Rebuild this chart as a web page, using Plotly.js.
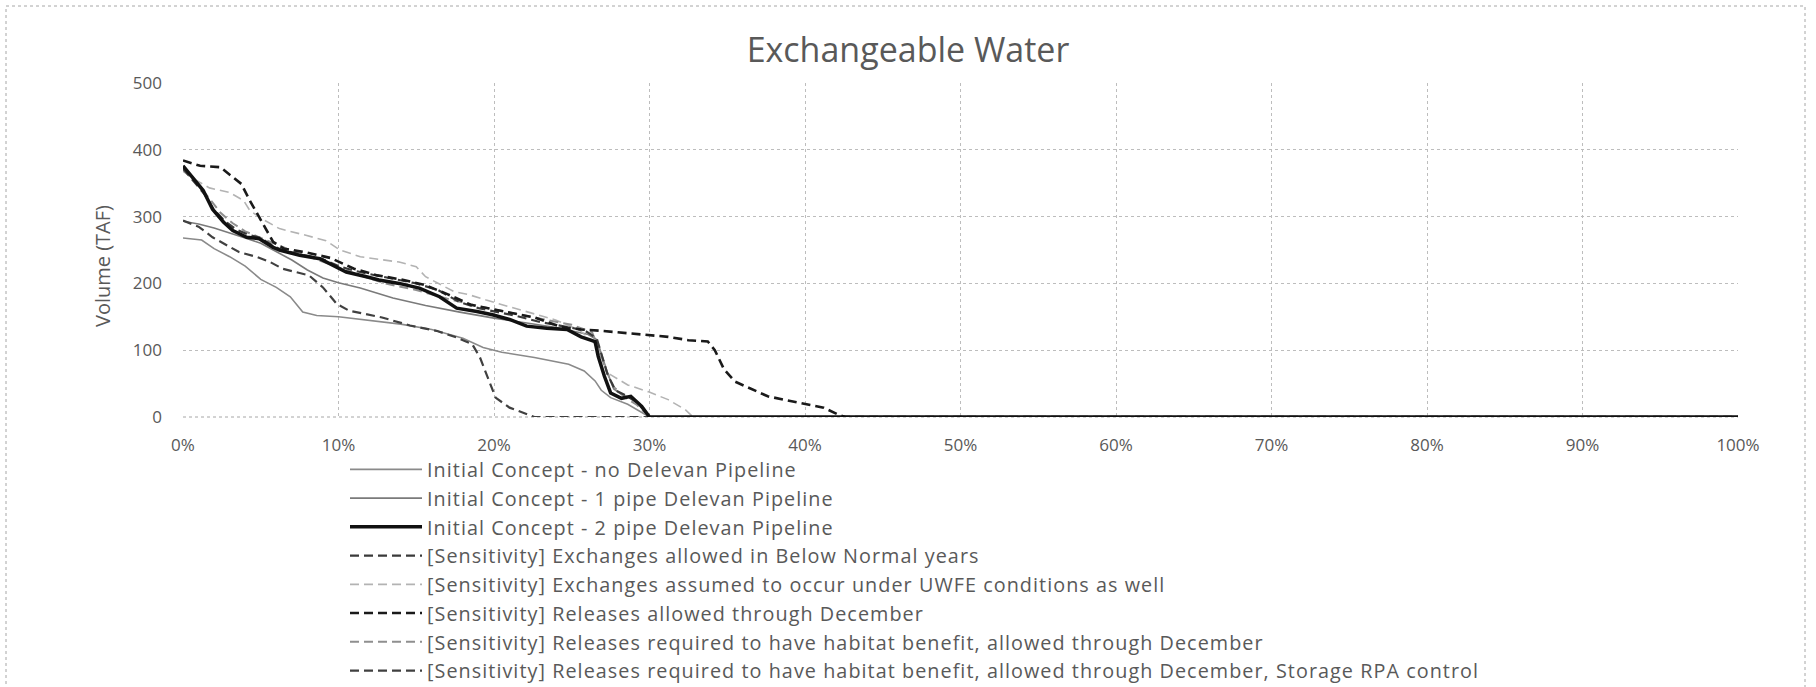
<!DOCTYPE html>
<html>
<head>
<meta charset="utf-8">
<script src="https://cdn.plot.ly/plotly-3.0.1.min.js"></script>
<style>
html,body{margin:0;padding:0;background:#fff;}
#chart{width:1816px;height:687px;}
#chart .legendtext{letter-spacing:1.05px;}
#chart g.legend, #chart g.legend *{clip-path:none !important;}
</style>
</head>
<body>
<div id="chart"></div>
<script>
// ---- Data (exceedance %, volume TAF) ----
const seriesNames = [
  "Initial Concept - no Delevan Pipeline",
  "Initial Concept - 1 pipe Delevan Pipeline",
  "Initial Concept - 2 pipe Delevan Pipeline",
  "[Sensitivity] Exchanges allowed in Below Normal years",
  "[Sensitivity] Exchanges assumed to occur under UWFE conditions as well",
  "[Sensitivity] Releases allowed through December",
  "[Sensitivity] Releases required to have habitat benefit, allowed through December",
  "[Sensitivity] Releases required to have habitat benefit, allowed through December, Storage RPA control"
];

const noDelevanX = [0,1.2,2,3,4,5,6,6.9,7.7,8.6,10,12,14,16,18,19.3,20.5,22.6,24.8,25.8,26.5,26.9,27.5,28.6,29.5,30,100];
const noDelevanY = [268,265,252,240,226,206,194,180,157,152,150,144,139,131,118,104,97,89,79,69,54,40,29,19,6,0,0];

const onePipeX = [0,1,2,3,4,5,6,7,8,9,10,11.4,13.5,15.6,17.8,20,22,24,26,26.6,26.9,27.3,27.7,28.3,28.9,29.5,30,100];
const onePipeY = [293,289,283,276,268,260,248,235,220,208,201,193,178,167,157,148,141,134,124,116,95,66,42,32,28,14,0,0];

const twoPipeX = [0,0.6,1.3,1.9,2.6,3.2,4.1,4.9,5.8,6.2,7.5,8.8,9.6,10.5,11.8,12.6,13.9,15.2,16.5,17.6,18.9,19.9,21,22.1,23.4,24.7,25.6,26.5,26.7,27.1,27.5,28.2,28.8,29.5,30,100];
const twoPipeY = [376,358,339,311,292,279,269,267,254,250,242,237,227,217,210,205,200,193,180,163,158,153,146,136,133,131,120,113,91,61,36,28,31,16,0,0];

const belowNormalX = [0,0.7,1.4,2,2.7,3.4,4.2,5,5.8,6.5,7.6,9,10,11,12.2,13.5,15,16.4,17.8,19,20.3,21.5,23,24.5,25.8,26.6,26.9,27.3,27.8,28.5,29.2,30,100];
const belowNormalY = [372,352,333,310,293,281,273,268,256,249,243,236,226,219,213,207,200,190,172,163,157,151,142,136,130,118,96,64,40,32,22,0,0];

const uwfeX = [0,0.8,1.7,3,3.9,4.3,5.2,6.2,7.9,9.2,10.1,11.4,12.6,13.9,15,15.6,17.4,18.4,19.5,21,22.5,24,25.5,26.5,27.3,28.6,29.9,31.2,32.3,32.8,100];
const uwfeY = [368,355,343,336,324,309,295,282,272,264,250,240,236,232,225,210,188,183,175,165,155,145,130,110,66,48,38,26,11,0,0];

const decemberX = [0,1.1,2.4,3,3.75,4.3,4.8,5.4,5.8,6.5,8,9.5,11,12.5,14,15.5,17,18.5,20.5,22.6,24.3,25.6,26.9,28.6,29.9,31.2,32.5,33.75,34.2,34.8,35.5,37.6,39.7,41.2,42.1,42.6,100];
const decemberY = [384,376,374,363,349,324,304,279,262,252,246,238,222,212,206,198,184,168,159,149,135,131,129,125,123,120,115,113,100,71,53,31,21,14,4,0,0];

const habitatX = [0,0.8,1.6,2.4,3.2,4,5,6,7,8,9,10,11.4,13,15,17,19,21,23,25,26.3,26.8,27.2,27.7,28.4,29.2,30,100];
const habitatY = [370,352,330,306,290,278,268,258,249,241,233,224,212,200,190,177,166,156,147,138,127,100,70,45,30,18,0,0];

const habitatRpaX = [0,1,1.9,2.8,3.6,4.7,5.6,6.4,6.9,8.1,9,9.9,10.7,12.8,14.6,16.3,17.6,18.6,19.1,19.5,20.1,21,22.1,22.6,100];
const habitatRpaY = [294,285,269,257,247,240,232,222,219,212,194,169,159,149,137,129,119,109,89,64,29,14,4,0,0];

const xTickVals = [0,10,20,30,40,50,60,70,80,90,100];
const yTickVals = [0,100,200,300,400,500];

// ---- Styles ----
const styles = [
  {color:"#8a8a8a", width:1.6, dash:"solid"},
  {color:"#7a7a7a", width:1.6, dash:"solid"},
  {color:"#111111", width:3.5, dash:"solid"},
  {color:"#3a3a3a", width:2.2, dash:"9px,5px"},
  {color:"#b3b3b3", width:1.6, dash:"9px,5px"},
  {color:"#1a1a1a", width:2.6, dash:"9px,5px"},
  {color:"#8f8f8f", width:2.0, dash:"9px,5px"},
  {color:"#404040", width:2.2, dash:"9px,5px"}
];

const xs = [noDelevanX, onePipeX, twoPipeX, belowNormalX, uwfeX, decemberX, habitatX, habitatRpaX];
const ys = [noDelevanY, onePipeY, twoPipeY, belowNormalY, uwfeY, decemberY, habitatY, habitatRpaY];

const traces = seriesNames.map((name, i) => ({
  type: "scatter",
  mode: "lines",
  name: name,
  x: xs[i],
  y: ys[i],
  line: {color: styles[i].color, width: styles[i].width, dash: styles[i].dash},
  hoverinfo: "skip"
}));

// draw order: put 2-pipe on top; legend order preserved via legendrank
const order = [0,1,4,6,3,7,5,2];
const drawTraces = order.map(i => traces[i]);
order.forEach((i, k) => { drawTraces[k].legendrank = i + 1; });

const W = 1816, H = 687;
const L = 183, R = 1738, T = 83, B = 417;
const pw = R - L, ph = B - T;
const px = v => (v - L) / pw;
const py = v => (B - v) / ph;

const fontFam = "'Open Sans', 'Noto Sans', sans-serif";
const txtColor = "#595959";

const layout = {
  width: W, height: H,
  margin: {l: L, r: W - R, t: T, b: H - B, pad: 0, autoexpand: false},
  paper_bgcolor: "#ffffff",
  plot_bgcolor: "#ffffff",
  showlegend: true,
  font: {family: fontFam, color: txtColor, size: 16},
  title: {
    text: "Exchangeable Water",
    font: {family: fontFam, size: 34, color: "#595959"},
    x: 0.5, xref: "container", xanchor: "center",
    y: 1 - 50 / H, yref: "container", yanchor: "middle"
  },
  xaxis: {
    range: [0, 100],
    tickvals: xTickVals,
    ticktext: xTickVals.map(v => v + "%"),
    showgrid: true, gridcolor: "#bdbdbd", griddash: "dot", gridwidth: 1,
    zeroline: false, showline: false, ticks: "",
    tickfont: {family: fontFam, size: 17, color: txtColor},
    ticklabelstandoff: 16,
    automargin: false,
    fixedrange: true
  },
  yaxis: {
    range: [0, 500],
    tickvals: yTickVals,
    showgrid: true, gridcolor: "#bdbdbd", griddash: "dot", gridwidth: 1,
    zeroline: false, showline: false, ticks: "",
    tickfont: {family: fontFam, size: 17, color: txtColor},
    ticklabelstandoff: 20,
    automargin: false,
    fixedrange: true
  },
  annotations: [
    {text: "Volume (TAF)", xref: "paper", yref: "paper", x: px(102), y: py(266),
     xanchor: "center", yanchor: "middle", textangle: -90, showarrow: false,
     font: {family: fontFam, size: 20, color: txtColor}}
  ],
  legend: {
    orientation: "v",
    x: px(345), xanchor: "left",
    y: py(450), yanchor: "top",
    traceorder: "normal",
    itemwidth: 72,
    font: {family: fontFam, size: 19.8, color: txtColor},
    bgcolor: "rgba(0,0,0,0)",
    borderwidth: 0
  },
  shapes: [
    {type: "rect", xref: "paper", yref: "paper",
     x0: px(6), x1: px(1805), y0: py(6), y1: py(700),
     line: {color: "#a6a6a6", width: 1, dash: "dot"}, fillcolor: "rgba(0,0,0,0)", layer: "below"},
    {type: "line", xref: "paper", yref: "paper", x0: 0, x1: 1, y0: 0, y1: 0,
     line: {color: "#a6a6a6", width: 1, dash: "dot"}, layer: "below"}
  ]
};

Plotly.newPlot("chart", drawTraces, layout, {staticPlot: true, displayModeBar: false});
</script>
</body>
</html>
